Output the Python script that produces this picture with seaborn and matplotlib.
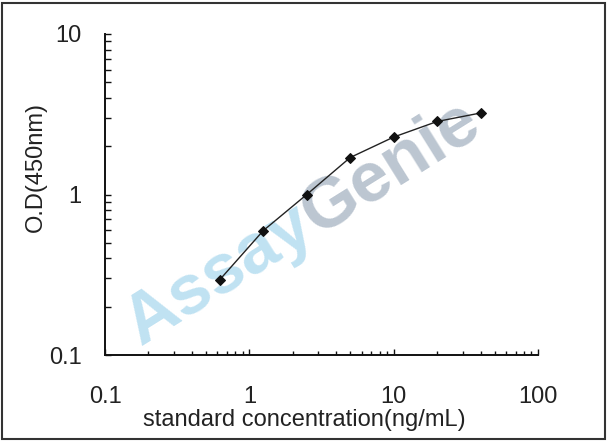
import matplotlib
matplotlib.use("Agg")
import matplotlib.pyplot as plt
import seaborn as sns
import pandas as pd
from matplotlib.patches import Rectangle
from matplotlib.ticker import LogLocator, NullFormatter

# data
concentration = [0.625, 1.25, 2.5, 5, 10, 20, 40]
od450 = [0.295, 0.596, 1.00, 1.70, 2.28, 2.85, 3.22]
x_ticks = [0.1, 1, 10, 100]
x_tick_labels = ["0.1", "1", "10", "100"]
y_ticks = [0.1, 1, 10]
y_tick_labels = ["0.1", "1", "10"]

sns.set_theme(style="white")
plt.rcParams["font.family"] = ["Liberation Sans", "DejaVu Sans"]

df = pd.DataFrame({"conc": concentration, "od": od450})

fig = plt.figure(figsize=(6.08, 4.41), dpi=100)
ax = fig.add_axes([105 / 608, 1 - 355 / 441, (538 - 105) / 608, (355 - 34) / 441])
ax.set_facecolor("none")

# watermark
pivot = (317 / 608, 1 - 236 / 441)
ax.text(*pivot, "Assay", transform=fig.transFigure, rotation=32, rotation_mode="anchor",
        ha="right", va="baseline", fontsize=51, fontweight="bold", color="#c0e2f2", zorder=0)
ax.text(*pivot, "Genie", transform=fig.transFigure, rotation=32, rotation_mode="anchor",
        ha="left", va="baseline", fontsize=51, fontweight="bold", color="#bcc6d1", zorder=0)

sns.lineplot(data=df, x="conc", y="od", ax=ax, color="#222222", linewidth=1.0,
             marker="D", markersize=5, markeredgecolor="#111111", markerfacecolor="#111111",
             zorder=3)

ax.set_xscale("log")
ax.set_yscale("log")
ax.set_xlim(0.1, 100)
ax.set_ylim(0.1, 10)
ax.set_xticks(x_ticks, x_tick_labels)
ax.set_yticks(y_ticks, y_tick_labels)
ax.xaxis.set_minor_locator(LogLocator(base=10, subs=range(2, 10)))
ax.yaxis.set_minor_locator(LogLocator(base=10, subs=range(2, 10)))
ax.xaxis.set_minor_formatter(NullFormatter())
ax.yaxis.set_minor_formatter(NullFormatter())

for s in ["top", "right"]:
    ax.spines[s].set_visible(False)
for s in ["left", "bottom"]:
    ax.spines[s].set_color("#111111")
    ax.spines[s].set_linewidth(1.4)

ax.tick_params(axis="x", which="major", direction="in", length=4.5, width=1.0,
               color="#111111", pad=22, labelsize=17, labelcolor="#222222", bottom=True)
ax.tick_params(axis="x", which="minor", direction="in", length=3.0, width=1.0,
               color="#111111", bottom=True)
ax.tick_params(axis="y", which="major", direction="in", length=4.5, width=1.0,
               color="#111111", pad=17, labelsize=17, labelcolor="#222222", left=True)
ax.tick_params(axis="y", which="minor", direction="in", length=4.5, width=1.0,
               color="#111111", left=True)

ax.set_xlabel("standard concentration(ng/mL)", fontsize=17, color="#222222")
ax.set_ylabel("O.D(450nm)", fontsize=17, color="#222222")
ax.xaxis.set_label_coords(0.46, -0.168)
ax.yaxis.set_label_coords(-0.135, 0.586)
ax.yaxis.label.set_va("bottom")

# outer border
fig.patches.append(Rectangle((2 / 608, 2 / 441), 1 - 5 / 608, 1 - 5 / 441,
                             transform=fig.transFigure, fill=False,
                             edgecolor="#333333", linewidth=1.5))

fig.savefig("out.png", dpi=100)
